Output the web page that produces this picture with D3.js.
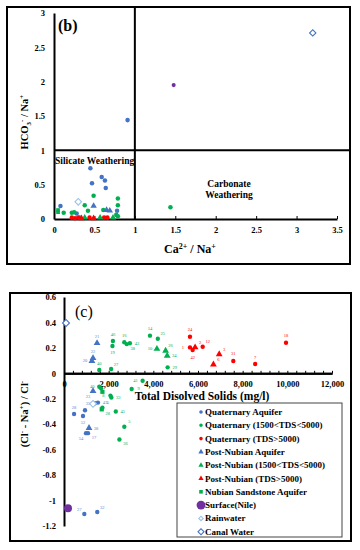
<!DOCTYPE html>
<html>
<head>
<meta charset="utf-8">
<script src="https://d3js.org/d3.v7.min.js"></script>
<style>
  body { margin: 0; background: #fff; }
  svg text { font-family: "Liberation Serif", "Times New Roman", serif; }
</style>
</head>
<body>
<svg id="fig" width="360" height="550"></svg>
<script>
"use strict";
// ---------- panel (b): [Ca/Na, HCO3/Na] ----------
var bQuatAquifer = [[0.91,1.44],[0.45,0.74],[0.47,0.52],[0.59,0.61],[0.63,0.56],[0.64,0.45],[0.08,0.19],[0.78,0.12],[0.28,0.08]];
var bQuatMid     = [[1.44,0.17],[0.49,0.34],[0.38,0.20],[0.42,0.12],[0.79,0.30],[0.79,0.20],[0.61,0.13],[0.12,0.09],
                    [0.22,0.09],[0.25,0.10],[0.77,0.06],[0.79,0.04],[0.32,0.02]];
var bQuatHigh    = [[0.22,0.02],[0.26,0.01],[0.30,0.02],[0.44,0.02],[0.62,0.02],[0.66,0.02]];
var bPostAquifer = [[0.49,0.19],[0.65,0.13],[0.69,0.12]];
var bPostMid     = [[0.57,0.02],[0.38,0.02],[0.73,0.02]];
var bPostHigh    = [[0.49,0.01],[0.34,0.01]];
var bNubian      = [[0.05,0.13],[0.05,0.10]];
var bNile        = [[1.48,1.95]];
var bRain        = [[0.30,0.25]];
var bCanal       = [[3.20,2.71]];

// ---------- panel (c): [TDS mg/l, (Cl-Na)/Cl, sample no] ----------
var cQuatAquifer = [[1390,-0.235,"35"],[1520,-0.23,"47"],[450,-0.32,"28"],[940,-0.29,""],[850,-0.335,"52"],
                    [1075,-0.47,"17"],[985,-0.47,"54"],[910,-1.106,"27"],[1490,-1.09,"32"]];
var cQuatMid     = [[2190,0.254,"46"],[2170,0.215,"19"],[2700,0.244,"16"],[2810,0.23,"38"],[2950,0.236,"43"],
                    [3850,0.296,"14"],[4200,0.272,"25"],[4640,0.047,"29"],[1580,0.026,"40"],[2110,0.034,"27"],
                    [3520,-0.058,"41"],[3030,-0.123,"9"],[1580,-0.105,"40"],[1660,-0.118,""],[2080,-0.175,"8"],
                    [2120,-0.19,"33"],[2320,-0.30,"45"],[2700,-0.42,"5"],[2480,-0.52,"36"],[1720,-0.27,"4"]];
var cQuatHigh    = [[5640,0.288,"24"],[5640,0.204,"1"],[5760,0.183,"42"],[6210,0.209,"12"],[7580,0.097,"31"],
                    [8560,0.073,"7"],[9940,0.24,"18"]];
var cPostAquifer = [[1480,0.238,"21"],[1300,0.12,"22"],[1250,0.097,"20"],[1300,-0.14,"23"],[1120,-0.43,"38"]];
var cPostMid     = [[4160,0.192,"10"],[4550,0.178,"26"],[4620,0.138,"34"]];
var cPostHigh    = [[5870,0.204,"2"],[6950,0.15,"3"],[6690,0.07,"6"]];
var cNubian      = [[1720,-0.145,""],[1690,-0.283,"28"]];
var cNile        = [[180,-1.06,""]];
var cRain        = [[1300,-0.24,""]];
var cCanal       = [[90,0.396,""]];

// where each sample number sits relative to its point
var cQuatAquiferTags = ["w","e","n","","s","se","sw","nw","ne"];
var cQuatMidTags     = ["n","s","n","se","e","n","ne","e","n","ne","w","e","w","","w","e","e","ne","se","ne"];
var cQuatHighTags    = ["n","w","s","ne","n","n","n"];
var cPostAquiferTags = ["n","n","w","sw","e"];
var cPostMidTags     = ["w","ne","e"];
var cPostHighTags    = ["ne","ne","ne"];
var cNubianTags      = ["","se"];

var xTicksB = [0,0.5,1,1.5,2,2.5,3,3.5];
var yTicksB = [0,0.5,1,1.5,2,2.5,3];
var xTicksC = [0,2000,4000,6000,8000,10000,12000];
var yTicksC = [0.6,0.4,0.2,0,-0.2,-0.4,-0.6,-0.8,-1,-1.2];

var BLUE = "#4472C4", GREEN = "#00B050", RED = "#FF0000";
var series = [
  {name:"Quaternary Aquifer",          b:bQuatAquifer, c:cQuatAquifer, tags:cQuatAquiferTags, color:BLUE,  shape:"circle"},
  {name:"Quaternary (1500<TDS<5000)",  b:bQuatMid,     c:cQuatMid,     tags:cQuatMidTags,     color:GREEN, shape:"circle"},
  {name:"Quaternary (TDS>5000)",       b:bQuatHigh,    c:cQuatHigh,    tags:cQuatHighTags,    color:RED,   shape:"circle"},
  {name:"Post-Nubian Aquifer",         b:bPostAquifer, c:cPostAquifer, tags:cPostAquiferTags, color:BLUE,  shape:"triangle"},
  {name:"Post-Nubian (1500<TDS<5000)", b:bPostMid,     c:cPostMid,     tags:cPostMidTags,     color:GREEN, shape:"triangle"},
  {name:"Post-Nubian (TDS>5000)",      b:bPostHigh,    c:cPostHigh,    tags:cPostHighTags,    color:RED,   shape:"triangle"},
  {name:"Nubian Sandstone Aquifer",    b:bNubian,      c:cNubian,      tags:cNubianTags,      color:GREEN, shape:"square"},
  {name:"Surface(Nile)",               b:bNile,        c:cNile,        tags:[],               color:"#7030A0", shape:"nile"},
  {name:"Rainwater",                   b:bRain,        c:cRain,        tags:[],               color:"#9DC3E6", shape:"rain"},
  {name:"Canal Water",                 b:bCanal,       c:cCanal,       tags:[],               color:BLUE,  shape:"canal"}
];

// symbol type / area for each panel (b, c, legend)
var shapes = {
  circle:   {type:d3.symbolCircle,   b:16, c:15, l:10},
  triangle: {type:d3.symbolTriangle, b:18, c:20, l:12},
  square:   {type:d3.symbolSquare,   b:14, c:18, l:13},
  nile:     {type:d3.symbolCircle,   b:13, c:50, l:62},
  rain:     {type:d3.symbolSquare,   b:22, c:24, l:10, open:true, rot:true},
  canal:    {type:d3.symbolSquare,   b:20, c:24, l:18, open:true, rot:true}
};

var svg = d3.select("#fig");

function drawMarks(g, s, pts, xs, ys, key) {
  var sh = shapes[s.shape];
  g.selectAll(null).data(pts).join("path")
    .attr("transform", function (d) {
      return "translate(" + xs(d[0]) + "," + ys(d[1]) + ")" + (sh.rot ? " rotate(45)" : "");
    })
    .attr("d", d3.symbol(sh.type, sh[key]))
    .attr("fill", sh.open ? "#fff" : s.color)
    .attr("stroke", sh.open ? s.color : "none")
    .attr("stroke-width", sh.open ? 1.1 : 0);
}

function styleAxis(g, size) {
  g.select(".domain").attr("stroke", "#000").attr("stroke-width", 2);
  g.selectAll(".tick line").attr("stroke", "#000").attr("stroke-width", 1);
  g.selectAll("text").attr("font-family", "Liberation Serif, serif")
    .attr("font-weight", "bold").attr("font-size", size).attr("fill", "#000");
}

/* ================= panel (b) ================= */
var xb = d3.scaleLinear().domain([0, 3.5]).range([54, 337]);
var yb = d3.scaleLinear().domain([0, 3]).range([219, 13]);

svg.append("rect").attr("x", 7).attr("y", 7).attr("width", 343).attr("height", 257)
  .attr("fill", "none").attr("stroke", "#000").attr("stroke-width", 2);

// quadrant lines at Ca/Na = 1 and HCO3/Na = 1
svg.append("line").attr("x1", xb(1)).attr("x2", xb(1)).attr("y1", 7).attr("y2", yb(0))
  .attr("stroke", "#000").attr("stroke-width", 2);
svg.append("line").attr("x1", xb(0)).attr("x2", 350).attr("y1", yb(1)).attr("y2", yb(1))
  .attr("stroke", "#000").attr("stroke-width", 2);

var gxb = svg.append("g").attr("transform", "translate(0," + yb(0) + ")")
  .call(d3.axisBottom(xb).tickValues(xTicksB).tickSizeInner(-3).tickSizeOuter(0).tickPadding(8)
    .tickFormat(function (d) { return String(d); }));
styleAxis(gxb, 8.5);
var gyb = svg.append("g").attr("transform", "translate(" + xb(0) + ",0)")
  .call(d3.axisLeft(yb).tickValues(yTicksB).tickSize(0).tickPadding(9)
    .tickFormat(function (d) { return String(d); }));
styleAxis(gyb, 8.5);

svg.append("text").attr("x", 58).attr("y", 31).attr("font-size", 16).attr("font-weight", "bold").text("(b)");

var tb = svg.append("text").attr("transform", "translate(28,122) rotate(-90)")
  .attr("text-anchor", "middle").attr("font-size", 10.5).attr("font-weight", "bold");
tb.append("tspan").text("HCO");
tb.append("tspan").attr("dy", 3).attr("font-size", 7).text("3");
tb.append("tspan").attr("dy", -7).attr("font-size", 7).text("-");
tb.append("tspan").attr("dy", 4).text(" / Na");
tb.append("tspan").attr("dy", -4).attr("font-size", 7).text("+");

var xtb = svg.append("text").attr("x", 190).attr("y", 253).attr("text-anchor", "middle")
  .attr("font-size", 12).attr("font-weight", "bold");
xtb.append("tspan").text("Ca");
xtb.append("tspan").attr("dy", -4).attr("font-size", 8).text("2+");
xtb.append("tspan").attr("dy", 4).text(" / Na");
xtb.append("tspan").attr("dy", -4).attr("font-size", 8).text("+");

svg.append("text").attr("x", 55).attr("y", 164).attr("font-size", 9.5).attr("font-weight", "bold")
  .text("Silicate Weathering");
svg.append("text").attr("x", 229).attr("y", 187).attr("text-anchor", "middle").attr("font-size", 9.5)
  .attr("font-weight", "bold").text("Carbonate");
svg.append("text").attr("x", 229).attr("y", 198).attr("text-anchor", "middle").attr("font-size", 9.5)
  .attr("font-weight", "bold").text("Weathering");

var gb = svg.append("g");
series.forEach(function (s) { drawMarks(gb, s, s.b, xb, yb, "b"); });

/* ================= panel (c) ================= */
var xc = d3.scaleLinear().domain([0, 12000]).range([64, 332]);
var yc = d3.scaleLinear().domain([-1.2, 0.6]).range([526, 297]);

svg.append("rect").attr("x", 10).attr("y", 293).attr("width", 341).attr("height", 248)
  .attr("fill", "none").attr("stroke", "#000").attr("stroke-width", 2);

var gxcMinor = svg.append("g").attr("transform", "translate(0," + yc(0) + ")")
  .call(d3.axisBottom(xc).tickValues(d3.range(0, 12001, 400)).tickSizeInner(-2.5).tickSizeOuter(0).tickFormat(""));
styleAxis(gxcMinor, 8);
var gxc = svg.append("g").attr("transform", "translate(0," + yc(0) + ")")
  .call(d3.axisBottom(xc).tickValues(xTicksC).tickSize(0).tickPadding(8).tickFormat(d3.format(",")));
styleAxis(gxc, 8.5);
var gyc = svg.append("g").attr("transform", "translate(" + xc(0) + ",0)")
  .call(d3.axisLeft(yc).tickValues(yTicksC).tickSize(0).tickPadding(8)
    .tickFormat(function (d) { return String(+d.toFixed(1)); }));
styleAxis(gyc, 8.5);

svg.append("text").attr("x", 75).attr("y", 317).attr("font-size", 16).text("(c)");

svg.append("text").attr("x", 202).attr("y", 400).attr("text-anchor", "middle").attr("font-size", 11.5)
  .attr("font-weight", "bold").text("Total Disolved Solids (mg/l)");

var tc = svg.append("text").attr("transform", "translate(28,414) rotate(-90)")
  .attr("text-anchor", "middle").attr("font-size", 10.5).attr("font-weight", "bold");
tc.append("tspan").text("(Cl");
tc.append("tspan").attr("dy", -4).attr("font-size", 7).text("-");
tc.append("tspan").attr("dy", 4).text(" - Na");
tc.append("tspan").attr("dy", -4).attr("font-size", 7).text("+");
tc.append("tspan").attr("dy", 4).text(") / Cl");
tc.append("tspan").attr("dy", -4).attr("font-size", 7).text("-");

var nudge = {n:[0,-7], s:[0,7], e:[7,0], w:[-7,0], ne:[5,-5], nw:[-5,-5], se:[6,4], sw:[-5,5]};
var gc = svg.append("g");
series.forEach(function (s) {
  drawMarks(gc, s, s.c, xc, yc, "c");
  gc.selectAll(null).data(s.c.filter(function (d, i) { return d[2] && s.tags[i]; })
      .map(function (d) { return d.concat([s.tags[s.c.indexOf(d)]]); }))
    .join("text")
    .attr("x", function (d) { return xc(d[0]) + nudge[d[3]][0]; })
    .attr("y", function (d) { return yc(d[1]) + nudge[d[3]][1]; })
    .attr("text-anchor", "middle").attr("dominant-baseline", "central")
    .attr("font-size", 4.5).attr("fill", s.color === BLUE ? "#5B85D6" : s.color)
    .text(function (d) { return d[2]; });
});

// legend
var lg = svg.append("g");
lg.append("rect").attr("x", 177).attr("y", 403).attr("width", 165).attr("height", 134)
  .attr("fill", "#fff").attr("stroke", "#444").attr("stroke-width", 1);
series.forEach(function (s, i) {
  var y = 412 + i * 13.3;
  var row = lg.append("g");
  drawMarks(row, s, [[0, 0]], function () { return 201; }, function () { return y; }, "l");
  row.append("text").attr("x", 205).attr("y", y + 3).attr("font-size", 9).attr("font-weight", "bold")
    .text(s.name);
});
</script>
</body>
</html>
